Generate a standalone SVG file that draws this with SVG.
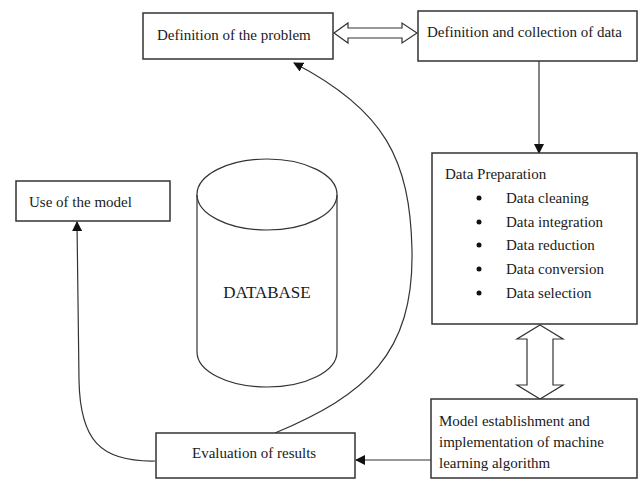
<svg xmlns="http://www.w3.org/2000/svg" width="639" height="480" viewBox="0 0 639 480">
<style>
.box{fill:#fff;stroke:#333;stroke-width:1.5}
.t{font-family:"Liberation Serif","Times New Roman",serif;font-size:15px;fill:#1a1a1a}
.ln{fill:none;stroke:#333;stroke-width:1.2}
.dbl{fill:#fff;stroke:#333;stroke-width:1.2;stroke-linejoin:miter}
</style>
<defs>
<marker id="ah" markerWidth="10" markerHeight="10" refX="9" refY="5" orient="auto" markerUnits="userSpaceOnUse">
<path d="M0,0 L10,5 L0,10 Z" fill="#111"/>
</marker>
</defs>
<rect width="639" height="480" fill="#fff"/>
<g id="connectors">
<path class="dbl" d="M334,33 L348,23 L348,28 L402,28 L402,23 L417,33 L402,43 L402,38 L348,38 L348,43 Z"/>
<path class="ln" d="M539,61 L539,153" marker-end="url(#ah)"/>
<path class="dbl" d="M540,325 L563,339 L553,339 L553,385 L563,385 L540,399 L517,385 L527,385 L527,339 L517,339 Z"/>
<path class="ln" d="M431,460 L356,460" marker-end="url(#ah)"/>
<path class="ln" d="M275,433 C365,395 414,355 412,250 C410,160 385,110 294,63" marker-end="url(#ah)"/>
<path class="ln" d="M155,461 C100,462 80,440 79,380 L77,222" marker-end="url(#ah)"/>
</g>
<g id="problem">
<rect class="box" x="143" y="13" width="190" height="46"/>
<text class="t" x="157" y="40">Definition of the problem</text>
</g>
<g id="data">
<rect class="box" x="418" y="11" width="219" height="50"/>
<text class="t" x="427" y="37">Definition and collection of data</text>
</g>
<g id="prep">
<rect class="box" x="432" y="153" width="205" height="171"/>
<text class="t" x="445" y="179">Data Preparation</text>
<g fill="#111">
<circle cx="479" cy="198" r="2.5"/>
<circle cx="479" cy="222" r="2.5"/>
<circle cx="479" cy="245" r="2.5"/>
<circle cx="479" cy="269" r="2.5"/>
<circle cx="479" cy="293" r="2.5"/>
</g>
<text class="t" x="506" y="203">Data cleaning</text>
<text class="t" x="506" y="227">Data integration</text>
<text class="t" x="506" y="250">Data reduction</text>
<text class="t" x="506" y="274">Data conversion</text>
<text class="t" x="506" y="298">Data selection</text>
</g>
<g id="use">
<rect class="box" x="16" y="181" width="154" height="40"/>
<text class="t" x="29" y="207">Use of the model</text>
</g>
<g id="database">
<path class="ln" d="M197,195 L197,352 A70,35 0 0 0 337,352 L337,195"/>
<ellipse class="ln" cx="267" cy="194.5" rx="70" ry="35.5"/>
<text class="t" x="267" y="298" text-anchor="middle" style="font-size:17px">DATABASE</text>
</g>
<g id="evaluation">
<rect class="box" x="156" y="433" width="199" height="45"/>
<text class="t" x="192" y="458">Evaluation of results</text>
</g>
<g id="model">
<rect class="box" x="431" y="399" width="206" height="79"/>
<text class="t" x="439" y="426">Model establishment and</text>
<text class="t" x="439" y="447">implementation of machine</text>
<text class="t" x="439" y="468">learning algorithm</text>
</g>
</svg>
